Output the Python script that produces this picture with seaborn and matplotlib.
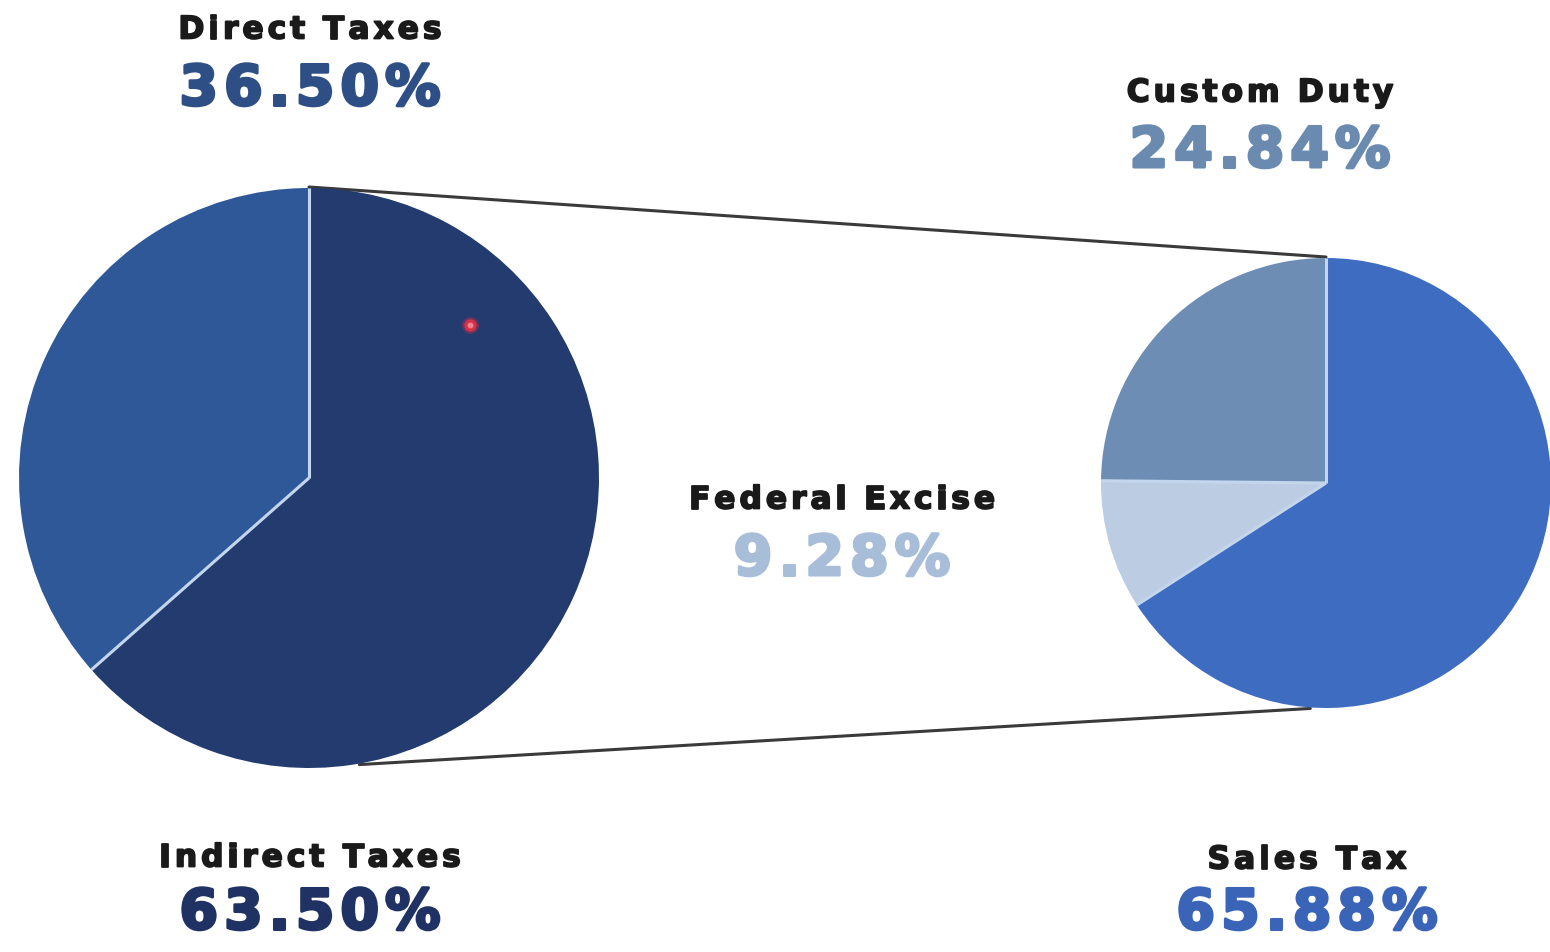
import matplotlib
matplotlib.use("Agg")
import matplotlib.pyplot as plt
import matplotlib.patheffects as pe
import seaborn as sns
import numpy as np

# data
main_labels = ["Direct Taxes", "Indirect Taxes"]
main_values = [36.50, 63.50]
sub_labels = ["Custom Duty", "Federal Excise", "Sales Tax"]
sub_values = [24.84, 9.28, 65.88]

main_colors = ["#2f5898", "#233b6e"]
sub_colors = ["#6d8db4", "#bccde3", "#3e6cc1"]
main_pct_colors = ["#2d4f86", "#1f3263"]
sub_pct_colors = ["#6a8ab0", "#a8bdd8", "#3a64b8"]
edge_color = "#c4d6ee"

sns.set_theme(style="white")
plt.rcParams["font.family"] = ["DejaVu Sans"]

W, H = 1550, 952
fig = plt.figure(figsize=(W / 100, H / 100), dpi=100)
ax = fig.add_axes([0, 0, 1, 1])
ax.set_xlim(0, W)
ax.set_ylim(0, H)
renderer = fig.canvas.get_renderer()

left_c, left_r = (309, H - 478), 290
right_c, right_r = (1326, H - 483), 225


def on_circle(c, r, deg):
    a = np.deg2rad(deg)
    return c[0] + r * np.cos(a), c[1] + r * np.sin(a)


def pie_with_dividers(values, colors, c, r):
    ax.pie(values, colors=colors, startangle=90, counterclock=True,
           center=c, radius=r, frame=True,
           wedgeprops=dict(linewidth=0))
    # light divider lines only between wedges
    bounds = 90 + 360 * np.cumsum([0] + list(values)) / sum(values)
    for b in bounds[:-1]:
        px, py = on_circle(c, r, b)
        ax.plot([c[0], px], [c[1], py], color=edge_color, lw=2.2,
                solid_capstyle="butt", zorder=3)


pie_with_dividers(main_values, main_colors, left_c, left_r)
pie_with_dividers(sub_values, sub_colors, right_c, right_r)

# connector lines between the two pies
p1 = on_circle(left_c, left_r, 90)
p2 = on_circle(right_c, right_r, 90)
ax.plot([p1[0], p2[0]], [p1[1] + 1, p2[1] + 1], color="#3a3a3a", lw=2.2, zorder=0)
p3 = on_circle(left_c, left_r, -80)
p4 = on_circle(right_c, right_r, -94)
ax.plot([p3[0], p4[0]], [p3[1] - 1, p4[1] - 1], color="#3a3a3a", lw=2.2, zorder=0)

# small red cursor dot
ax.scatter([470], [H - 325], s=150, color="#b03050", alpha=0.45, lw=0, zorder=5)
ax.scatter([470], [H - 325], s=80, color="#d83048", lw=0, zorder=6)
ax.scatter([470], [H - 325], s=18, color="#f08090", lw=0, zorder=7)


def spaced_text(x, y, s, size, color, tracking, stroke):
    # draw text char by char with extra letter spacing, centred on x
    arts, widths = [], []
    for ch in s:
        t = ax.text(0, y, ch, ha="left", va="center", fontsize=size,
                    fontweight="bold", color=color,
                    path_effects=[pe.withStroke(linewidth=stroke, foreground=color)])
        w = t.get_window_extent(renderer).width if ch != " " else size * 0.45
        arts.append(t)
        widths.append(w)
    total = sum(widths) + tracking * (len(s) - 1)
    cur = x - total / 2
    for t, w in zip(arts, widths):
        t.set_x(cur)
        cur += w + tracking


# labels
label_pos = {
    "Direct Taxes": (310, 30, 90),
    "Indirect Taxes": (310, 858, 914),
    "Custom Duty": (1260, 93, 152),
    "Federal Excise": (842, 500, 560),
    "Sales Tax": (1307, 860, 914),
}
all_labels = main_labels + sub_labels
all_values = main_values + sub_values
all_pct_colors = main_pct_colors + sub_pct_colors
for name, val, col in zip(all_labels, all_values, all_pct_colors):
    x, y1, y2 = label_pos[name]
    spaced_text(x, H - y1, name, 22.5, "#1a1a1a", 4.0, 1.3)
    spaced_text(x, H - y2, f"{val:.2f}%", 40, col, 6, 2.2)

ax.set_xlim(0, W)
ax.set_ylim(0, H)
ax.set_aspect("equal")
ax.axis("off")
fig.savefig("out.png", dpi=100, facecolor="white")
